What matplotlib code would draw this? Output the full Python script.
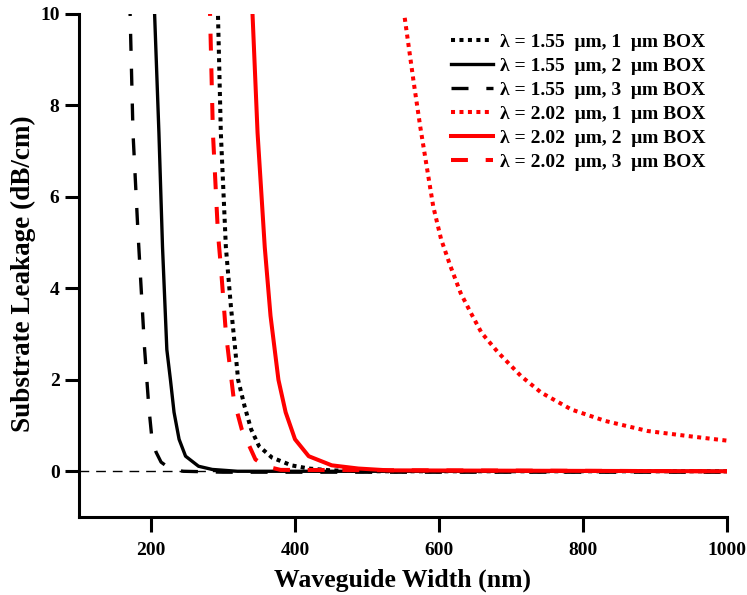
import matplotlib.pyplot as plt

plt.rcParams['font.family'] = ['Liberation Serif', 'DejaVu Serif']
plt.rcParams['font.weight'] = 'bold'

# waveguide width (nm) vs substrate leakage (dB/cm)
x_155_1 = [291, 293, 297, 304, 311, 317, 321, 330, 339, 350, 368, 395, 419, 450, 500, 700, 1000]
y_155_1 = [10.6, 10.0, 7.4, 4.9, 3.6, 2.66, 2.0, 1.42, 0.92, 0.55, 0.3, 0.13, 0.06, 0.02, 0.0, 0.0, 0.0]

x_155_2 = [204, 205, 211, 216, 222, 227, 232, 239, 248, 266, 285, 320, 1000]
y_155_2 = [10.5, 10.0, 7.4, 4.9, 2.66, 2.0, 1.29, 0.7, 0.33, 0.11, 0.04, 0.0, 0.0]

x_155_3 = [170, 171, 175, 182, 191, 197, 201, 207, 214, 228, 245, 300, 1000]
y_155_3 = [10.5, 10.0, 7.4, 5.2, 2.7, 1.4, 0.76, 0.42, 0.2, 0.04, 0.0, -0.02, -0.02]

x_202_1 = [551, 552, 565, 574, 583, 592, 603, 616, 630, 644, 659, 682, 714, 742,
           784, 831, 890, 946, 1000]
y_202_1 = [10.1, 9.96, 8.49, 7.53, 6.66, 5.79, 5.07, 4.48, 3.9, 3.47, 3.03, 2.6, 2.08, 1.72,
           1.35, 1.1, 0.88, 0.77, 0.67]

x_202_2 = [340, 341, 348, 358, 366, 377, 387, 400, 419, 451, 488, 530, 1000]
y_202_2 = [10.5, 10.0, 7.4, 4.9, 3.4, 2.0, 1.29, 0.7, 0.33, 0.13, 0.06, 0.02, 0.0]

x_202_3 = [281, 282, 286, 293, 297, 304, 315, 326, 345, 359, 380, 1000]
y_202_3 = [10.5, 10.0, 7.4, 5.2, 4.48, 3.03, 1.57, 0.92, 0.26, 0.11, 0.03, 0.0]

labels = ["λ = 1.55  μm, 1  μm BOX", "λ = 1.55  μm, 2  μm BOX", "λ = 1.55  μm, 3  μm BOX",
          "λ = 2.02  μm, 1  μm BOX", "λ = 2.02  μm, 2  μm BOX", "λ = 2.02  μm, 3  μm BOX"]

fig = plt.figure(figsize=(7.47, 5.95), dpi=100)
ax = fig.add_axes([79 / 747, 1 - 517 / 595, 648 / 747, 503 / 595])

ax.axhline(0, color='black', lw=1, ls=(0, (7, 5)), zorder=1)

series = [(x_155_1, y_155_1, 'black', ':'), (x_155_2, y_155_2, 'black', '-'),
          (x_155_3, y_155_3, 'black', '--'), (x_202_1, y_202_1, 'red', ':'),
          (x_202_2, y_202_2, 'red', '-'), (x_202_3, y_202_3, 'red', '--')]

for (xs, ys, c, ls), lab in zip(series, labels):
    lw = 2.4 if c == 'black' else 2.9
    if ls == ':':
        ax.plot(xs, ys, color=c, lw=2.9, ls=(0, (1, 1.1)), label=lab)
    elif ls == '--':
        dash = 5.1 if c == 'black' else 4.2
        ax.plot(xs, ys, color=c, lw=lw, ls=(0, (dash, dash * 1.05)), label=lab)
    else:
        ax.plot(xs, ys, color=c, lw=lw, label=lab)

ax.set_xlim(100, 1000)
ax.set_ylim(-1, 10)
ax.set_xticks([200, 400, 600, 800, 1000])
ax.set_yticks([0, 2, 4, 6, 8, 10])

for s in ['top', 'right']:
    ax.spines[s].set_visible(False)
for s in ['left', 'bottom']:
    ax.spines[s].set_linewidth(2.2)

ax.tick_params(axis='x', length=11, width=2.2, labelsize=14, pad=7)
ax.tick_params(axis='y', length=10, width=2.2, labelsize=14, pad=4)

ax.set_xlabel("Waveguide Width (nm)", fontsize=18.5, fontweight='bold', labelpad=7)
ax.set_ylabel("Substrate Leakage (dB/cm)", fontsize=19.5, fontweight='bold')
ax.yaxis.set_label_coords(-0.066, 0.484)

ax.legend(loc='upper right', frameon=False, fontsize=14, handlelength=2.2,
          handletextpad=0.36, labelspacing=0.33, borderpad=0, borderaxespad=0,
          bbox_to_anchor=(706 / 747, 1 - 33 / 595), bbox_transform=fig.transFigure)

fig.savefig("out.png", dpi=100)
